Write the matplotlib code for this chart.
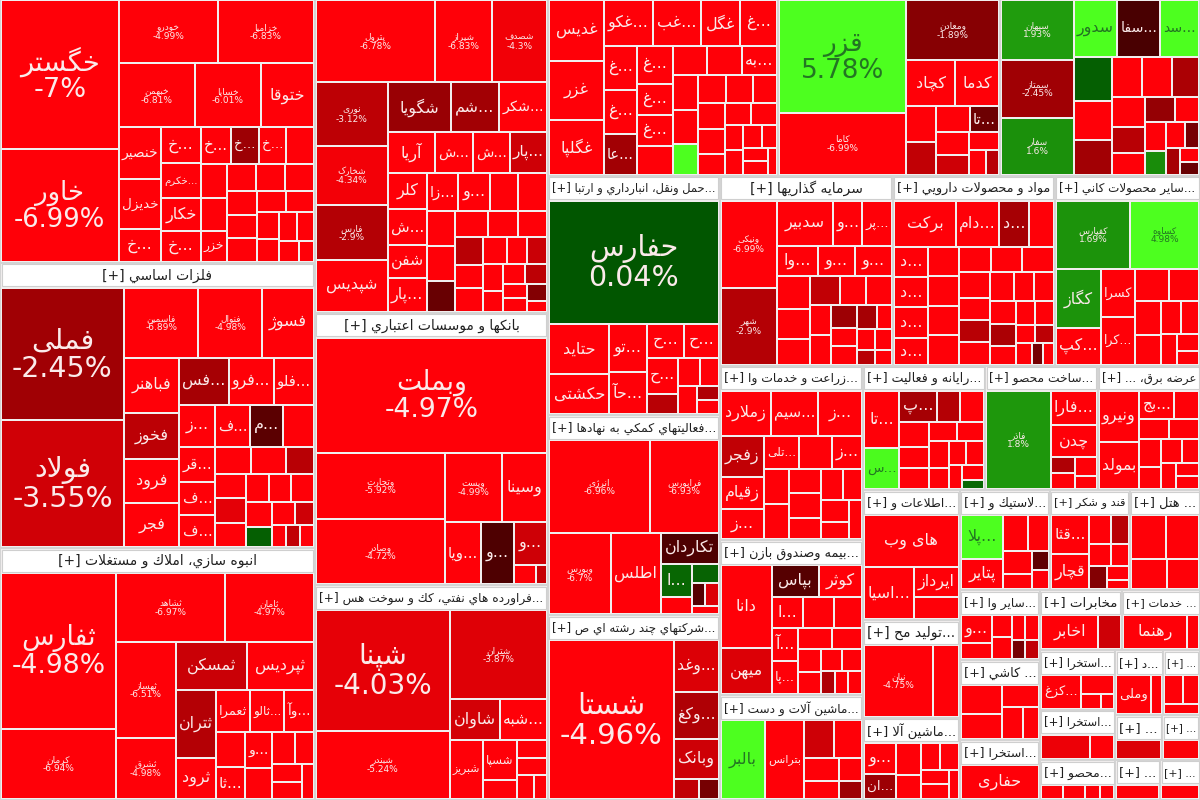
import matplotlib
matplotlib.use("Agg")
import matplotlib.pyplot as plt
from matplotlib.patches import Rectangle

# ---------------------------------------------------
# DATA  (name, change %, weight)  - weights are relative market size
# ---------------------------------------------------

AUTO_TILES = [
    ("خگستر", -7.00, 176), ("خاور", -6.99, 132), ("خودرو", -4.99, 63), ("خزامیا", -6.83, 61),
    ("خبهمن", -6.81, 49), ("خساپا", -6.01, 42), ("ختوقا", -6.50, 34), ("خنصیر", -5.80, 22),
    ("خدیزل", -5.90, 21), ("...خ", -6.10, 14), ("...خ", -5.70, 14), ("...خکرم", -6.20, 14),
    ("خکار", -5.60, 13), ("...خ", -6.00, 12), ("...خ", -5.50, 11), ("...خ", -2.40, 10),
    ("...خ", -5.90, 10), ("", -5.80, 10), ("", -6.00, 9), ("", -5.40, 9), ("خزر", -5.30, 8),
    ("", -5.60, 8), ("", -5.90, 8), ("", -5.20, 8), ("", -6.10, 7), ("", -5.50, 7), ("", -5.70, 7),
    ("", -5.30, 6), ("", -6.00, 6), ("", -5.80, 6), ("", -5.40, 5), ("", -5.60, 5), ("", -5.10, 5),
    ("", -5.90, 4), ("", -5.50, 3),
]
METALS_TILES = [
    ("فملی", -2.45, 153), ("فولاد", -3.55, 147), ("فاسمین", -6.89, 49), ("فنوال", -4.98, 42),
    ("فسوژ", -5.50, 34), ("فباهنر", -5.80, 29), ("فخوز", -3.10, 24), ("فرود", -5.30, 23),
    ("فجر", -5.00, 23), ("...فس", -2.60, 22), ("...فرو", -5.50, 20), ("...فلو", -5.60, 18),
    ("...ز", -5.50, 14), ("...ف", -5.60, 14), ("...م", -0.90, 13), ("", -5.20, 12),
    ("...قر", -5.40, 12), ("...ف", -5.70, 11), ("...ف", -5.10, 11), ("", -5.30, 9), ("", -5.60, 9),
    ("", -3.00, 7), ("", -5.80, 7), ("", -4.00, 7), ("", -5.50, 7), ("", -5.90, 6), ("", -5.20, 6),
    ("", -5.40, 6), ("", -5.70, 6), ("", 0.30, 5), ("", -5.00, 5), ("", -3.50, 4), ("", -5.60, 3),
    ("", -3.20, 3), ("", -5.30, 3),
]
REALESTATE_TILES = [
    ("ثفارس", -4.98, 172), ("کرمان", -6.94, 78), ("ثشاهد", -6.97, 72), ("ثامان", -4.97, 59),
    ("ثهساز", -6.51, 55), ("ثشرق", -4.98, 35), ("ثمسکن", -3.40, 33), ("ثپردیس", -5.50, 31),
    ("ثتران", -2.90, 26), ("ثرود", -5.50, 16), ("ثعمرا", -5.30, 14), ("...ثالو", -5.60, 14),
    ("...وآ", -5.40, 12), ("", -5.70, 10), ("...ثا", -5.20, 9), ("...و", -5.80, 9),
    ("", -5.50, 8), ("", -5.30, 7), ("", -5.90, 6), ("", -5.60, 5), ("", -5.40, 5), ("", -5.10, 4),
]
CHEM_TILES = [
    ("پترول", -6.78, 90), ("شیراز", -6.83, 43), ("شصدف", -4.30, 42), ("نوری", -3.12, 42),
    ("شخارک", -4.34, 39), ("فارس", -2.90, 36), ("شپدیس", -5.50, 34), ("شگویا", -2.30, 29),
    ("...شم", -2.50, 22), ("...شکر", -5.50, 22), ("آریا", -5.40, 18), ("...ش", -5.60, 14),
    ("...ش", -5.20, 14), ("...پار", -3.50, 14), ("کلر", -5.80, 13), ("...ش", -5.30, 13),
    ("شفن", -5.70, 12), ("...پار", -5.40, 12), ("...زا", -5.50, 11), ("...و", -5.60, 11),
    ("", -5.90, 10), ("", -5.40, 10), ("", -5.20, 9), ("", -5.70, 9), ("", -1.20, 8), ("", -5.50, 8),
    ("", -5.30, 7), ("", -5.80, 7), ("", -3.00, 7), ("", -5.60, 6), ("", -5.10, 6), ("", -5.90, 6),
    ("", -5.40, 5), ("", -3.40, 5), ("", -5.70, 5), ("", -5.20, 4), ("", -5.50, 4), ("", -3.10, 4),
    ("", -5.60, 3), ("", -5.30, 3), ("", -1.80, 3), ("", -5.00, 2),
]
BANKS_TILES = [
    ("وبملت", -4.97, 247), ("وتجارت", -5.92, 79), ("وصادر", -4.72, 78), ("وپست", -4.99, 37),
    ("وسینا", -5.50, 29), ("...ویا", -5.30, 21), ("...و", -0.60, 19), ("...و", -3.50, 13),
    ("", -5.40, 4), ("", -3.30, 2),
]
PETRO_TILES = [
    ("شپنا", -4.03, 155), ("شبندر", -5.24, 88), ("شتران", -3.87, 83), ("شاوان", -3.60, 20),
    ("...شبه", -5.50, 19), ("شبریز", -5.40, 19), ("شسپا", -5.60, 13), ("", -5.30, 6),
    ("", -5.70, 5), ("", -5.20, 5), ("", -5.50, 4), ("", -5.80, 3),
]
FOOD_TILES = [
    ("غدیس", -5.80, 30), ("غزر", -5.50, 29), ("غگلپا", -5.60, 27), ("...غکو", -5.40, 20),
    ("...غب", -5.70, 20), ("غگل", -5.30, 16), ("...غ", -5.90, 15), ("...غ", -5.50, 13),
    ("...غ", -5.60, 13), ("...عا", -2.50, 12), ("...غ", -5.20, 12), ("...غ", -5.80, 10),
    ("...غ", -5.40, 10), ("", -5.60, 9), ("", -5.30, 9), ("", -5.70, 9), ("...به", -5.50, 9),
    ("", -5.90, 8), ("", -5.20, 8), ("", 4.80, 7), ("", -5.40, 7), ("", -5.60, 7), ("", -5.80, 6),
    ("", -5.10, 6), ("", -5.50, 6), ("", -5.30, 5), ("", -5.70, 5), ("", -5.40, 5), ("", -5.60, 4),
    ("", -5.20, 4), ("", -5.90, 4), ("", -5.50, 3), ("", -5.30, 3), ("", -5.70, 3), ("", -5.40, 2),
]
MINING_TILES = [
    ("قزر", 5.78, 135), ("کاما", -6.99, 73), ("ومعادن", -1.89, 52), ("کچاد", -5.50, 21),
    ("کدما", -5.40, 19), ("", -5.50, 10), ("", -3.20, 9), ("", -5.60, 8), ("...تا", -1.30, 7),
    ("", -5.30, 7), ("", -3.50, 6), ("", -5.70, 5), ("", -5.20, 4), ("", -3.00, 3),
]
CEMENT_TILES = [
    ("سبهان", 1.93, 36), ("سمتاز", -2.45, 35), ("سفار", 1.60, 34), ("سدور", 4.80, 20),
    ("...سفا", -0.50, 20), ("...سد", 4.90, 18), ("", 0.30, 14), ("", -5.50, 12), ("", -2.50, 11),
    ("", -5.60, 10), ("", -5.30, 10), ("", -2.70, 9), ("", -5.70, 8), ("", -3.00, 7), ("", -5.40, 6),
    ("", -2.20, 6), ("", -5.20, 5), ("", -5.80, 5), ("", 1.50, 4), ("", -5.50, 4), ("", -1.50, 3),
    ("", -2.60, 3), ("", -5.30, 2), ("", -1.20, 2),
]
TRANSPORT_TILES = [
    ("حفارس", 0.04, 199), ("حتاید", -5.60, 29), ("حکشتی", -5.50, 23), ("...تو", -5.40, 17),
    ("...حآ", -5.70, 15), ("...ح", -5.30, 12), ("...ح", -5.60, 11), ("...ح", -5.20, 11),
    ("", -3.00, 6), ("", -5.50, 6), ("", -5.40, 5), ("", -5.80, 5), ("", -2.80, 3), ("", -5.30, 3),
]
SUPPORT_TILES = [
    ("انرژی", -6.96, 88), ("فرابورس", -6.93, 60), ("وبورس", -6.70, 48), ("اطلس", -4.99, 38),
    ("تکاردان", -0.60, 17), ("...ا", 0.50, 10), ("", -5.50, 5), ("", 0.40, 5), ("", -0.80, 3),
    ("", -3.80, 3), ("", -5.20, 2),
]
MULTI_TILES = [
    ("شستا", -4.96, 198), ("...وغد", -3.80, 23), ("...وکغ", -2.80, 21), ("وبانک", -3.50, 18),
    ("", -3.20, 5), ("", -1.50, 4),
]
INVEST_TILES = [
    ("ونیکی", -6.99, 40), ("شهر", -2.90, 35), ("سدبیر", -5.50, 21), ("...و", -5.60, 11),
    ("...پر", -5.40, 11), ("...وا", -5.70, 10), ("...و", -5.30, 9), ("...و", -5.50, 9),
    ("", -5.20, 9), ("", -5.80, 8), ("", -5.40, 7), ("", -3.20, 7), ("", -5.60, 6), ("", -5.30, 6),
    ("", -5.70, 5), ("", -5.50, 5), ("", -2.40, 5), ("", -5.90, 4), ("", -5.20, 4), ("", -2.60, 4),
    ("", -5.40, 3), ("", -5.60, 3), ("", -5.10, 3), ("", -3.00, 2), ("", -5.50, 2),
]
PHARMA_TILES = [
    ("برکت", -5.60, 25), ("...دام", -5.40, 17), ("...د", -2.60, 12), ("", -5.50, 10),
    ("...د", -5.70, 9), ("...د", -5.30, 9), ("...د", -5.60, 9), ("...د", -5.20, 8),
    ("", -5.80, 8), ("", -5.40, 8), ("", -5.50, 8), ("", -5.90, 8), ("", -5.30, 7), ("", -5.60, 7),
    ("", -5.70, 7), ("", -5.10, 7), ("", -5.50, 6), ("", -3.00, 6), ("", -5.40, 6), ("", -5.80, 6),
    ("", -5.20, 5), ("", -5.60, 5), ("", -5.30, 5), ("", -2.70, 5), ("", -5.50, 4), ("", -5.70, 4),
    ("", -5.40, 4), ("", -5.90, 3), ("", -3.10, 3), ("", -5.20, 3), ("", -1.50, 2), ("", -5.60, 2),
]
MINERALS_TILES = [
    ("کفپارس", 1.69, 53), ("کساوه", 4.98, 49), ("کگاز", 1.70, 27), ("...کپ", -5.50, 17),
    ("کسرا", -5.40, 17), ("...کرا", -5.60, 17), ("", -5.30, 11), ("", -5.70, 10), ("", -5.50, 9),
    ("", -5.20, 8), ("", -5.80, 7), ("", -5.40, 6), ("", -5.60, 5), ("", -5.30, 4), ("", -5.50, 3),
]
AGRI_TILES = [
    ("زملارد", -5.50, 23), ("...سیم", -5.40, 22), ("...ز", -5.60, 20), ("زفجر", -3.20, 18),
    ("زقیام", -5.30, 14), ("...ز", -5.70, 13), ("...تلی", -5.50, 12), ("", -5.20, 11),
    ("...ز", -5.40, 10), ("", -5.60, 9), ("", -5.80, 9), ("", -5.30, 8), ("", -5.50, 8),
    ("", -5.70, 7), ("", -5.10, 7), ("", -5.40, 6), ("", -5.60, 6), ("", -5.20, 5), ("", -5.50, 5),
]
INSUR_TILES = [
    ("دانا", -6.90, 40), ("میهن", -3.80, 22), ("بپاس", -0.80, 14), ("کوثر", -5.50, 13),
    ("...ا", -5.40, 9), ("", -5.60, 9), ("", -5.30, 8), ("...آ", -5.70, 8), ("...پا", -5.20, 8),
    ("", -5.50, 7), ("", -5.40, 6), ("", -5.80, 5), ("", -5.60, 5), ("", -5.30, 4), ("", -5.50, 4),
    ("", -2.80, 3), ("", -5.70, 3), ("", -5.40, 3),
]
MACHINE_TILES = [
    ("بالبر", 4.99, 34), ("بترانس", -5.20, 30), ("بشهاب", -3.50, 11), ("", -5.50, 10),
    ("", -5.40, 8), ("", -5.60, 6), ("", -5.30, 5), ("", -2.40, 4),
]
COMPUTER_TILES = [
    ("...تا", -5.50, 19), ("...س", 4.50, 14), ("...پ", -2.60, 11), ("", -2.90, 7), ("", -5.40, 7),
    ("", -5.60, 7), ("", -5.30, 6), ("", -5.70, 6), ("", -5.50, 5), ("", -5.20, 5), ("", -5.80, 5),
    ("", -5.40, 4), ("", -5.60, 4), ("", -5.30, 4), ("", -5.50, 3), ("", -5.10, 3), ("", 0.50, 2),
]
METALPROD_TILES = [
    ("فاذر", 1.80, 65), ("...فارا", -5.50, 16), ("چدن", -5.40, 15), ("", -2.80, 4),
    ("", -5.60, 4), ("", -5.30, 4), ("", -5.50, 3),
]
POWER_TILES = [
    ("ونیرو", -5.50, 21), ("بمولد", -5.60, 19), ("...بج", -5.40, 10), ("", -5.70, 7),
    ("", -5.30, 6), ("", -5.50, 6), ("", -5.80, 6), ("", -5.20, 5), ("", -5.60, 5), ("", -5.40, 4),
    ("", -5.50, 4), ("", -5.30, 3), ("", -5.70, 3),
]
ICT_TILES = [("های وب", -6.13, 43), ("...اسیا", -5.50, 23), ("ایرداز", -5.40, 12), ("", -5.60, 9)]
FOODPROD_TILES = [("نیان", -4.75, 42), ("", -5.50, 16)]
MACHINE2_TILES = [
    ("...و", -5.50, 10), ("...ان", -2.40, 8), ("", -5.40, 8), ("", -5.60, 6), ("", -5.30, 5),
    ("", -5.70, 5), ("", -5.50, 4), ("", -5.20, 4), ("", -5.60, 3),
]
RUBBER_TILES = [
    ("...پلا", 4.80, 17), ("پتایر", -5.50, 12), ("", -5.40, 8), ("", -5.60, 7), ("", -5.30, 6),
    ("", -5.70, 4), ("", -1.00, 3), ("", -5.50, 3),
]
SUGAR_TILES = [
    ("...قثا", -5.50, 14), ("قچار", -5.40, 13), ("", -5.60, 6), ("", -3.00, 5), ("", -5.30, 5),
    ("", -5.70, 4), ("", -1.80, 4), ("", -5.50, 3), ("", -5.20, 2),
]
HOTEL_TILES = [("", -5.50, 13), ("", -5.40, 12), ("", -5.60, 9), ("", -5.30, 8)]
OTHER_TILES = [
    ("...و", -5.50, 10), ("", -5.40, 6), ("", -5.60, 5), ("", -5.30, 5), ("", -5.70, 4),
    ("", -5.50, 4), ("", -1.50, 3), ("", -3.20, 3),
]
TILE_TILES = [("", -5.50, 9), ("", -5.40, 8), ("", -5.60, 6), ("", -5.30, 5), ("", -5.70, 4)]
EXTRACT1_TILES = [("حفاری", -6.88, 26)]
TELECOM_TILES = [("اخابر", -5.50, 20), ("", -3.50, 8)]
SERVICES_TILES = [("رهنما", -4.99, 21), ("", -5.50, 4)]
EXTRACT2_TILES = [("...کزغ", -5.50, 13), ("", -5.40, 6), ("", -5.60, 3), ("", -5.30, 2)]
EXTRACT3_TILES = [("", -4.20, 10), ("", -5.50, 5)]
PROD_TILES = [("", -5.50, 3), ("", -5.40, 3), ("", -5.60, 2), ("", -5.30, 2)]
MISC1_TILES = [("وملی", -5.50, 13), ("", -5.40, 4)]
MISC1B_TILES = [("", -5.50, 5), ("", -5.30, 4), ("", -5.60, 3)]
MISC2_TILES = [("", -3.80, 6)]
MISC2B_TILES = [("", -4.50, 5)]
MISC3_TILES = [("", -5.50, 3)]
MISC4_TILES = [("", -5.40, 3)]

SECTOR_KEYS = [
    "auto", "metals", "realestate", "chem", "banks", "petro", "food", "mining", "cement",
    "transport", "support", "multi", "invest", "pharma", "minerals", "agri", "insur", "machine",
    "computer", "metalprod", "power", "ict", "foodprod", "machine2", "rubber", "sugar", "hotel",
    "other", "tile", "extract1", "telecom", "services", "extract2", "extract3", "prod",
    "misc1", "misc1b", "misc2", "misc2b", "misc3", "misc4",
]
SECTOR_TITLES = [
    "خودرو و ساخت قطعات", "فلزات اساسي", "انبوه سازي، املاك و مستغلات", "محصولات شيميايي",
    "بانكها و موسسات اعتباري", "...فراورده هاي نفتي، كك و سوخت هس", "محصولات غذايي و آشاميدني",
    "استخراج كانه هاي فلزي", "سيمان، آهك و گچ", "...حمل ونقل، انبارداري و ارتبا",
    "...فعاليتهاي كمكي به نهادها", "...شركتهاي چند رشته اي ص", "سرمايه گذاريها",
    "مواد و محصولات دارويي", "...ساير محصولات كاني", "...زراعت و خدمات وا", "...بيمه وصندوق بازن",
    "...ماشين آلات و دست", "...رايانه و فعاليت", "...ساخت محصو", "عرضه برق، ...",
    "...اطلاعات و", "...توليد مح", "...ماشين آلا", "...لاستيك و", "قند و شكر", "... هتل",
    "...ساير وا", "... كاشي", "...استخرا", "مخابرات", "... خدمات", "...استخرا", "...استخرا",
    "...محصو", "...د", "...", "...", "...", "...", "...",
]
SECTOR_SIZES = [
    907, 901, 794, 788, 636, 501, 462, 446, 402,
    413, 344, 318, 329, 308, 276, 250, 222, 150,
    153, 141, 128, 126, 95, 80, 90, 80, 70,
    56, 64, 48, 49, 47, 45, 38, 30,
    31, 24, 21, 17, 18, 16,
]

TILES = {
    "auto": AUTO_TILES, "metals": METALS_TILES, "realestate": REALESTATE_TILES,
    "chem": CHEM_TILES, "banks": BANKS_TILES, "petro": PETRO_TILES, "food": FOOD_TILES,
    "mining": MINING_TILES, "cement": CEMENT_TILES, "transport": TRANSPORT_TILES,
    "support": SUPPORT_TILES, "multi": MULTI_TILES, "invest": INVEST_TILES,
    "pharma": PHARMA_TILES, "minerals": MINERALS_TILES, "agri": AGRI_TILES,
    "insur": INSUR_TILES, "machine": MACHINE_TILES, "computer": COMPUTER_TILES,
    "metalprod": METALPROD_TILES, "power": POWER_TILES, "ict": ICT_TILES,
    "foodprod": FOODPROD_TILES, "machine2": MACHINE2_TILES, "rubber": RUBBER_TILES,
    "sugar": SUGAR_TILES, "hotel": HOTEL_TILES, "other": OTHER_TILES, "tile": TILE_TILES,
    "extract1": EXTRACT1_TILES, "telecom": TELECOM_TILES, "services": SERVICES_TILES,
    "extract2": EXTRACT2_TILES, "extract3": EXTRACT3_TILES, "prod": PROD_TILES,
    "misc1": MISC1_TILES, "misc1b": MISC1B_TILES, "misc2": MISC2_TILES,
    "misc2b": MISC2B_TILES, "misc3": MISC3_TILES, "misc4": MISC4_TILES,
}

# nesting of sectors: levels alternate side-by-side / stacked
LAYOUT = [
    ["auto", "metals", "realestate"],
    ["chem", "banks", "petro"],
    [
        ["food", "mining", "cement"],
        [
            ["transport", "support", "multi"],
            [
                ["invest", "pharma", "minerals"],
                [
                    ["agri", "insur", "machine"],
                    [
                        ["computer", "metalprod", "power"],
                        [
                            ["ict", "foodprod", "machine2"],
                            [
                                ["rubber", "sugar", "hotel"],
                                [
                                    ["other", "tile", "extract1"],
                                    [
                                        ["telecom", "services"],
                                        [
                                            ["extract2", "extract3", "prod"],
                                            [["misc1", "misc1b"], ["misc2", "misc2b"], ["misc3", "misc4"]],
                                        ],
                                    ],
                                ],
                            ],
                        ],
                    ],
                ],
            ],
        ],
    ],
]

HEADER = 25

# ---------------------------------------------------
# PERSIAN TEXT SHAPING (matplotlib has no bidi / joining)
# ---------------------------------------------------

FORMS = {}
code = 0xFE8D
for ch, k in [("ا", 2), ("ب", 4), ("ة", 2), ("ت", 4), ("ث", 4), ("ج", 4), ("ح", 4), ("خ", 4),
              ("د", 2), ("ذ", 2), ("ر", 2), ("ز", 2), ("س", 4), ("ش", 4), ("ص", 4), ("ض", 4),
              ("ط", 4), ("ظ", 4), ("ع", 4), ("غ", 4), ("ف", 4), ("ق", 4), ("ك", 4), ("ل", 4),
              ("م", 4), ("ن", 4), ("ه", 4), ("و", 2), ("ى", 2), ("ي", 4)]:
    FORMS[ch] = tuple(code + i for i in range(k)) + (None,) * (4 - k)
    code += k
for ch, start, k in [("پ", 0xFB56, 4), ("چ", 0xFB7A, 4), ("ژ", 0xFB8A, 2),
                     ("ک", 0xFB8E, 4), ("گ", 0xFB92, 4), ("ی", 0xFBFC, 4)]:
    FORMS[ch] = tuple(start + i for i in range(k)) + (None,) * (4 - k)
FORMS["آ"] = (0xFE81, 0xFE82, None, None)
FORMS["ء"] = (0xFE80, None, None, None)
LAM_ALEF = {"آ": (0xFEF5, 0xFEF6), "ا": (0xFEFB, 0xFEFC)}
MIRROR = {"[": "]", "]": "[", "(": ")", ")": "("}


def joins_next(c):
    return c in FORMS and FORMS[c][2] is not None


def rtl(s):
    out = []
    i = 0
    while i < len(s):
        c = s[i]
        if c not in FORMS:
            out.append(c)
            i += 1
            continue
        prev = s[i - 1] if i > 0 else ""
        link_prev = joins_next(prev) and FORMS[c][1] is not None
        if c == "ل" and i + 1 < len(s) and s[i + 1] in LAM_ALEF:
            iso, fin = LAM_ALEF[s[i + 1]]
            out.append(chr(fin if link_prev else iso))
            i += 2
            continue
        nxt = s[i + 1] if i + 1 < len(s) else ""
        link_next = joins_next(c) and nxt in FORMS
        iso, fin, ini, med = FORMS[c]
        if link_prev and link_next:
            g = med
        elif link_prev:
            g = fin
        elif link_next:
            g = ini
        else:
            g = iso
        out.append(chr(g))
        i += 1
    return "".join(MIRROR.get(c, c) for c in reversed(out))


# ---------------------------------------------------
# LAYOUT
# ---------------------------------------------------

SIZE = dict(zip(SECTOR_KEYS, SECTOR_SIZES))
TITLE = dict(zip(SECTOR_KEYS, SECTOR_TITLES))


def node_size(node):
    if isinstance(node, str):
        return SIZE[node]
    return sum(node_size(c) for c in node)


def split(node, x, y, w, h, across, out):
    if isinstance(node, str):
        out[node] = (x, y, w, h)
        return
    total = node_size(node)
    for child in node:
        f = node_size(child) / total
        if across:
            split(child, x, y, w * f, h, False, out)
            x += w * f
        else:
            split(child, x, y, w, h * f, True, out)
            y += h * f


def worst(row, side):
    t = sum(row)
    return max(max(side * side * r / (t * t), t * t / (side * side * r)) for r in row)


def squarify(values, x, y, w, h):
    scale = w * h / sum(values)
    vals = [v * scale for v in values]
    rects = []
    i = 0
    while i < len(vals):
        side = min(w, h)
        row = [vals[i]]
        j = i + 1
        while j < len(vals) and worst(row + [vals[j]], side) <= worst(row, side):
            row.append(vals[j])
            j += 1
        t = sum(row)
        if w >= h:
            cw = t / h
            yy = y
            for r in row:
                rects.append((x, yy, cw, r / cw))
                yy += r / cw
            x += cw
            w -= cw
        else:
            rh = t / w
            xx = x
            for r in row:
                rects.append((xx, y, r / rh, rh))
                xx += r / rh
            y += rh
            h -= rh
        i = j
    return rects


def tile_color(p):
    if p < 0:
        t = min(-p / 4.6, 1.0)
        return (0.2 + 0.8 * t, 0.0, 0.03 * t)
    t = min(p / 4.6, 1.0)
    return (0.30 * t, 0.33 + 0.67 * t, 0.12 * t)


def pct_text(p):
    return ("%.2f" % p).rstrip("0").rstrip(".") + "%"


# ---------------------------------------------------
# DRAW
# ---------------------------------------------------

plt.rcParams["font.family"] = "DejaVu Sans"
fig = plt.figure(figsize=(12, 8), dpi=100)
fig.patch.set_facecolor("#d4d4d4")
ax = fig.add_axes([0, 0, 1, 1])
ax.set_xlim(0, 1200)
ax.set_ylim(800, 0)
ax.axis("off")
renderer = fig.canvas.get_renderer()


def fit(t, maxw, maxh):
    bb = t.get_window_extent(renderer=renderer)
    fs = t.get_fontsize()
    k = min(maxw / max(bb.width, 1), maxh / max(bb.height, 1), 1.0)
    if k < 1:
        t.set_fontsize(fs * k)
    return fs * k


rects = {}
# the view starts just below the first row of sector headers
split(LAYOUT, 0, -HEADER, 1200, 800 + HEADER, True, rects)

for key in SECTOR_KEYS:
    sx, sy, sw, sh = rects[key]
    ax.add_patch(Rectangle((sx + 1, sy + 1), sw - 2, sh - 2, fc="#f1eeee", ec="none"))
    if sy >= 0:
        hdr = Rectangle((sx + 1.5, sy + 1.5), sw - 3, HEADER - 3, fc="white", ec="#cfcfcf", lw=0.8)
        ax.add_patch(hdr)
        ht = ax.text(sx + sw / 2, sy + HEADER / 2 + 0.5, rtl(TITLE[key] + " [+]"), ha="center",
                     va="center", fontsize=10, color="#202020")
        ht.set_clip_path(hdr)
        fit(ht, sw - 8, HEADER - 4)

    tiles = sorted(TILES[key], key=lambda r: -r[2])
    boxes = squarify([r[2] for r in tiles], sx + 1, sy + HEADER, sw - 2, sh - HEADER - 1)
    for (name, p, _), (x, y, w, h) in zip(tiles, boxes):
        box = Rectangle((x + 1, y + 1), w - 2, h - 2, fc=tile_color(p), ec="none")
        ax.add_patch(box)
        if not name:
            continue
        tc = "#237523" if p > 3 else "#fbeaea"
        cx, cy = x + w / 2, y + h / 2
        if w * h >= 3600 and min(w, h) >= 54:
            fs = max(15, min(21, min(w, h) / 6.0)) if min(w, h) >= 100 else 6.5
            px = fs * 100 / 72
            t1 = ax.text(cx, cy - 0.48 * px, rtl(name), ha="center", va="center",
                         fontsize=fs, color=tc)
            t2 = ax.text(cx, cy + 0.55 * px, pct_text(p), ha="center", va="center",
                         fontsize=fs, color=tc)
            for t in (t1, t2):
                t.set_clip_path(box)
                fit(t, w - 10, h / 2)
        else:
            t = ax.text(cx, cy, rtl(name), ha="center", va="center", fontsize=11.5, color=tc)
            t.set_clip_path(box)
            if fit(t, w - 6, h - 4) < 6:
                t.remove()

fig.savefig("out.png", dpi=100, facecolor=fig.get_facecolor())
